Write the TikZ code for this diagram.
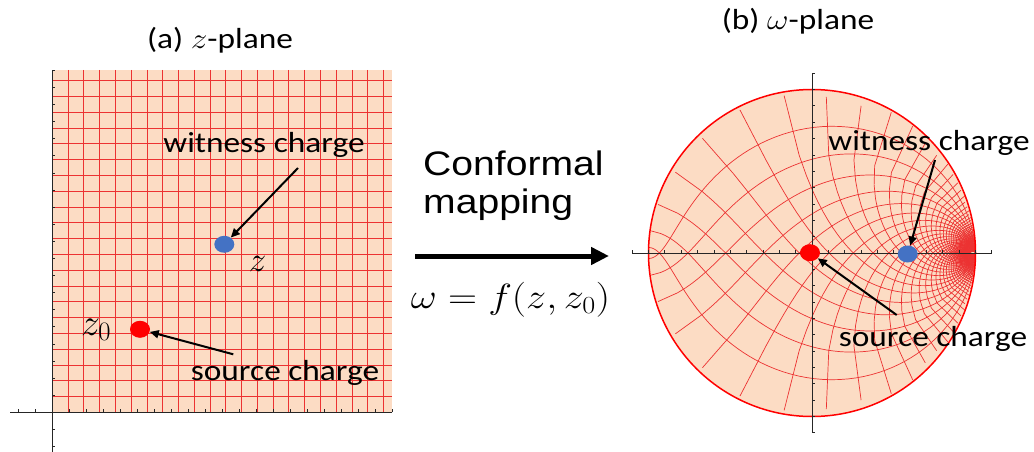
\RequirePackage{fix-cm}
\documentclass[tikz,border=0pt]{standalone}
\usepackage{fontspec}
\setmainfont{Carlito}
\newfontfamily\arialf{Liberation Sans}
\usepackage{graphicx}
\usetikzlibrary{arrows.meta,shapes.geometric}
\definecolor{peach}{RGB}{252,220,196}
\definecolor{gridred}{RGB}{236,50,50}
\definecolor{dotblue}{RGB}{68,114,196}
\definecolor{dotred}{RGB}{255,0,0}
\newcommand{\hs}[1]{\scalebox{1.15}[1]{#1}}
\begin{document}
\begin{tikzpicture}[x=1pt,y=-1pt,
  gridline/.style={gridred,line width=0.8pt},
  diskline/.style={gridred,line width=0.7pt},
  axisline/.style={black!85,line width=0.8pt},
  lbl/.style={inner sep=0pt,font=\fontsize{29}{34}\selectfont},
  ptr/.style={black,line width=2pt,-{Triangle[length=9pt,width=8pt]}},
  bigarrow/.style={black,line width=5pt,-{Triangle[length=18pt,width=17pt]}},
  chargedot/.style={ellipse,minimum width=20pt,minimum height=17pt,inner sep=0pt},
  declare function={
    dq(\u,\q)=1+(\q*exp(\u))^2+4*\q*exp(\u)*sqrt(abs(exp(\u)*(1-exp(\u))));
    wx(\u,\q)=(1-(\q*exp(\u))^2)/dq(\u,\q);
    wy(\u,\q)=-2*\q*exp(\u)*(2*exp(\u)-1)/dq(\u,\q);
  }]
\useasboundingbox (0,0) rectangle (1034,452);

% ---------- (a) z-plane ----------
\fill[peach] (52.3,70) rectangle (392,412.3);
\foreach \k in {1,...,21}{
  \draw[gridline] ({52.3+15.77*\k},70) -- ({52.3+15.77*\k},412.3);
  \draw[gridline] (52.3,{412.3-15.8*\k}) -- (392,{412.3-15.8*\k});
}
\draw[axisline] (10,412.3) -- (392,412.3);
\draw[axisline] (52.3,452) -- (52.3,70);
\foreach \k in {-2,-1,1,2,...,20}{
  \draw[axisline] ({52.3+17*\k},412.3) -- ++(0,3pt);
  \draw[axisline] (52.3,{412.3-17.1*\k}) -- ++(3pt,0);
}
\node[lbl] (ta) at (220,40) {\hs{(a) $z$-plane}};
\node[chargedot,fill=dotblue] (bz) at (224.3,244.3) {};
\node[chargedot,fill=dotred] (rz) at (140,329.3) {};
\node[lbl,anchor=base] (zl) at (257.5,271.7) {\fontsize{35}{40}\selectfont$z$};
\node[lbl,anchor=base west] (z0l) at (81,335) {\fontsize{38}{44}\selectfont$z_0$};
\node[lbl,anchor=base] (wlz) at (264,152) {\hs{witness charge}};
\node[lbl,anchor=base] (slz) at (285,380) {\hs{source charge}};
\coordinate (wtz) at (298,168);
\coordinate (stz) at (233.3,354.3);
\draw[ptr] (wtz) -- (bz);
\draw[ptr] (stz) -- (rz);

% ---------- mapping ----------
\node[lbl,anchor=base west,font=\arialf\fontsize{34}{40}\selectfont] (conf) at (423,175) {\hs{Conformal}};
\node[lbl,anchor=base west,font=\arialf\fontsize{34}{40}\selectfont] (mapp) at (423,213) {\hs{mapping}};
\coordinate (aS) at (415,256);
\coordinate (aE) at (609,256);
\draw[bigarrow] (aS) -- (aE);
\node[lbl,anchor=base] (eq) at (510.5,308) {\fontsize{35}{40}\selectfont\hs{$\omega=f(z,z_0)$}};

% ---------- (b) omega-plane ----------
\node[lbl] (tb) at (798,21) {\hs{(b) $\omega$-plane}};
\begin{scope}[shift={(812,253)},x=163.5pt,y=163.5pt]
  \fill[peach] (0,0) circle (1);
  \foreach \k in {1,...,40}{
    \pgfmathsetmacro\qz{50/(0.925*\k)^2}
    \pgfmathsetmacro\mumin{ln(0.004/\qz)}
    \pgfmathsetmacro\ns{int(15*(-\mumin))+10}
    \draw[diskline] plot[domain=\mumin:0,samples=\ns,variable=\u] ({wx(\u,\qz)},{wy(\u,\qz)});
    \draw[diskline] plot[domain=\mumin:0,samples=\ns,variable=\u] ({wx(\u,\qz)},{-wy(\u,\qz)});
  }
  \draw[dotred,line width=1.5pt] (0,0) circle (1);
  \draw[axisline] (-1.1,0) -- (1.1,0);
  \draw[axisline] (0,-1.1) -- (0,1.1);
  \foreach \t in {-11,...,-1,1,2,...,11}{
    \draw[axisline] (\t/10,0) -- ++(0,3pt);
    \draw[axisline] (0,\t/10) -- ++(3pt,0);
  }
\end{scope}
\node[chargedot,fill=dotred] (rw) at (810,252.7) {};
\node[chargedot,fill=dotblue] (bw) at (907.7,254) {};
\node[lbl,anchor=base] (wlw) at (929,150) {\hs{witness charge}};
\node[lbl,anchor=base] (slw) at (933,346) {\hs{source charge}};
\coordinate (wtw) at (935,160);
\coordinate (stw) at (896.7,315);
\draw[ptr] (wtw) -- (bw);
\draw[ptr] (stw) -- (rw);
\end{tikzpicture}
\end{document}
